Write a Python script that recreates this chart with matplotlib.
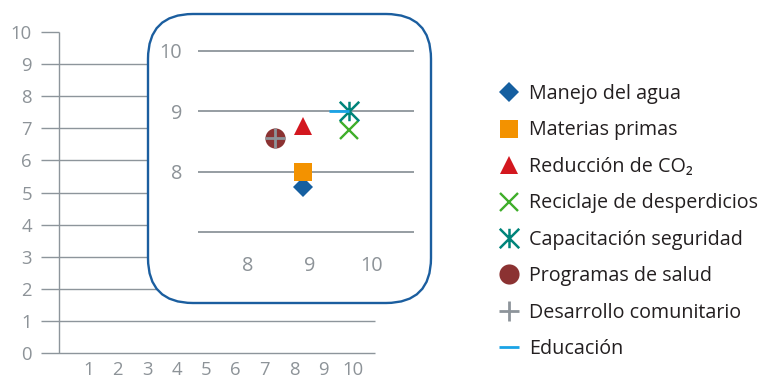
import matplotlib
matplotlib.use("Agg")
import matplotlib.pyplot as plt
from matplotlib.patches import FancyBboxPatch
from matplotlib.path import Path
from matplotlib.transforms import IdentityTransform

plt.rcParams['font.family'] = ['Open Sans', 'DejaVu Sans']

# ---- data -------------------------------------------------------------
series = [
    "Manejo del agua",
    "Materias primas",
    "Reducción de CO₂",
    "Reciclaje de desperdicios",
    "Capacitación seguridad",
    "Programas de salud",
    "Desarrollo comunitario",
    "Educación",
]
x_values = [8.89, 8.89, 8.89, 9.64, 9.64, 8.44, 8.44, 9.47]
y_values = [7.75, 8.00, 8.75, 8.69, 9.00, 8.55, 8.55, 9.00]

main_yticks = [0, 1, 2, 3, 4, 5, 6, 7, 8, 9, 10]
main_xticks = [1, 2, 3, 4, 5, 6, 7, 8, 9, 10]
zoom_grid = [7, 8, 9, 10]
zoom_yticks = [8, 9, 10]
zoom_xticks = [8, 9, 10]

# ---- styles -----------------------------------------------------------
GRID = "#8d959b"
TICK = "#8d9398"
TEXT = "#231f20"
FRAME = "#1b5e9f"

asterisk = Path(
    [(-0.5, -0.5), (0.5, 0.5), (-0.5, 0.5), (0.5, -0.5), (0.0, -0.5), (0.0, 0.5)],
    [Path.MOVETO, Path.LINETO, Path.MOVETO, Path.LINETO, Path.MOVETO, Path.LINETO],
)

styles = [
    dict(marker="D", color="#155fa0", ms=10.0, mew=0),
    dict(marker="s", color="#f39200", ms=13.0, mew=0),
    dict(marker="^", color="#d3171f", ms=13.5, mew=0),
    dict(marker="x", color="#3fae2a", ms=13.0, mew=1.7),
    dict(marker=asterisk, color="#00847a", ms=14.0, mew=1.8),
    dict(marker="o", color="#8b3232", ms=14.5, mew=0),
    dict(marker="+", color="#8d949a", ms=15.0, mew=2.0),
    dict(marker="_", color="#1aa3e6", ms=14.0, mew=2.0),
]

W, H, DPI = 773, 380, 100
fig = plt.figure(figsize=(W / DPI, H / DPI), dpi=DPI)

# ---- main chart -------------------------------------------------------
ax = fig.add_axes([41 / W, 27 / H, 334 / W, 321 / H])
xmin, xmax = -0.612, 10.75
ax.set_xlim(xmin, xmax)
ax.set_ylim(0, 10)
for s in ax.spines.values():
    s.set_visible(False)
ax.hlines(main_yticks[:-1], xmin, xmax, color=GRID, lw=1.0, clip_on=False)
ax.hlines(main_yticks[-1], xmin, 0, color=GRID, lw=1.0, clip_on=False)
ax.vlines(0, 0, 10, color=GRID, lw=1.0, clip_on=False)
ax.set_yticks(main_yticks)
ax.set_xticks(main_xticks)
ax.tick_params(length=0, labelcolor=TICK, labelsize=13.3)
ax.tick_params(axis="y", pad=6.5)
ax.tick_params(axis="x", pad=6)

# ---- rounded frame behind the zoomed view -----------------------------
box = FancyBboxPatch(
    (148, H - 303), 283, 289,
    boxstyle="round,pad=0,rounding_size=45",
    transform=IdentityTransform(),
    facecolor="white", edgecolor=FRAME, lw=1.7, zorder=2,
)
fig.add_artist(box)

# ---- zoomed view ------------------------------------------------------
axz = fig.add_axes([198 / W, (H - 232) / H, 216 / W, 181 / H])
axz.set_zorder(3)
axz.patch.set_visible(False)
axz.set_xlim(7.2, 10.68)
axz.set_ylim(7, 10)
for s in axz.spines.values():
    s.set_visible(False)
axz.hlines(zoom_grid, 7.2, 10.68, color=GRID, lw=1.3, clip_on=False, zorder=1)
axz.set_yticks(zoom_yticks)
axz.set_xticks(zoom_xticks)
axz.tick_params(length=0, labelcolor=TICK, labelsize=14.3)
axz.tick_params(axis="y", pad=11.5)
axz.tick_params(axis="x", pad=17)

handles = []
for name, x, y, st in zip(series, x_values, y_values, styles):
    (h,) = axz.plot(
        [x], [y], linestyle="none", marker=st["marker"], markersize=st["ms"],
        color=st["color"], markeredgewidth=st["mew"], label=name,
        clip_on=False, zorder=3,
    )
    handles.append(h)

fig.legend(
    handles, series,
    loc="upper left", bbox_to_anchor=(496 / W, 1 - 84 / H),
    frameon=False, borderpad=0, borderaxespad=0,
    handlelength=1.32, handletextpad=0.36, labelspacing=0.835,
    fontsize=14.2, labelcolor=TEXT,
)

fig.savefig("out.png", dpi=DPI)
